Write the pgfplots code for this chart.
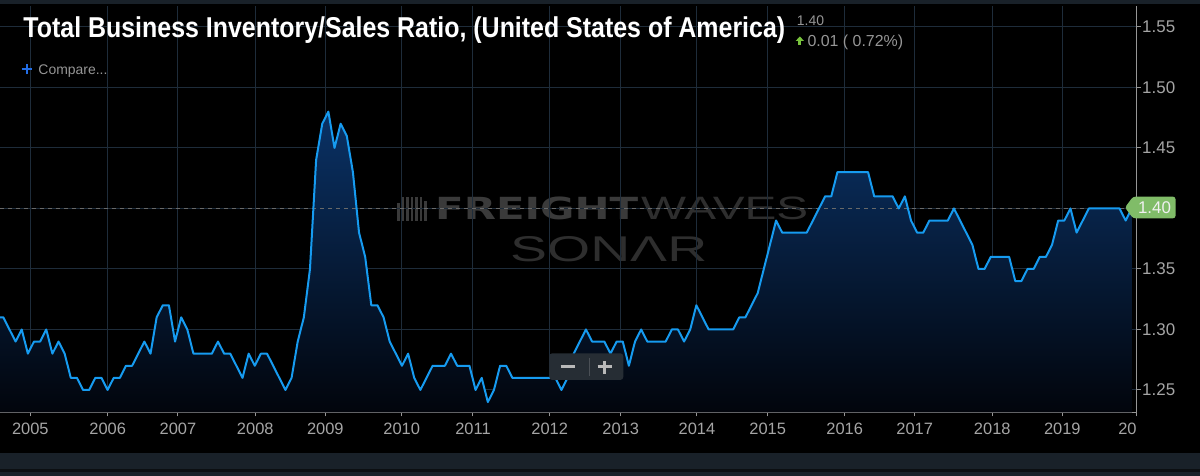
\documentclass[border=0pt]{standalone}
\usepackage{pgfplots}
\pgfplotsset{compat=1.18}
\usepackage{pgfplotstable}
\usepackage{graphicx}
\usepackage{fontspec}
\setmainfont{Liberation Sans}
\newfontfamily\djv{DejaVu Sans}

\definecolor{gridc}{RGB}{30,44,58}
\definecolor{axisc}{RGB}{150,150,150}
\definecolor{linec}{RGB}{22,155,240}
\definecolor{filltop}{RGB}{10,50,102}
\definecolor{fillbot}{RGB}{2,5,12}
\definecolor{txtgrey}{RGB}{165,165,165}
\definecolor{smallgrey}{RGB}{150,150,150}
\definecolor{barc}{RGB}{25,33,41}
\definecolor{bardark}{RGB}{12,15,18}
\definecolor{tagc}{RGB}{128,188,104}
\definecolor{wmc}{RGB}{58,58,58}
\definecolor{wmc2}{RGB}{46,46,46}
\definecolor{dashc}{RGB}{105,105,105}
\definecolor{btnc}{RGB}{38,45,52}
\definecolor{btntxt}{RGB}{185,185,185}
\definecolor{plusblue}{RGB}{35,110,230}
\definecolor{upgreen}{RGB}{120,195,60}

\pgfplotstableread{
i v
0 1.31
1 1.31
2 1.30
3 1.29
4 1.30
5 1.28
6 1.29
7 1.29
8 1.30
9 1.28
10 1.29
11 1.28
12 1.26
13 1.26
14 1.25
15 1.25
16 1.26
17 1.26
18 1.25
19 1.26
20 1.26
21 1.27
22 1.27
23 1.28
24 1.29
25 1.28
26 1.31
27 1.32
28 1.32
29 1.29
30 1.31
31 1.30
32 1.28
33 1.28
34 1.28
35 1.28
36 1.29
37 1.28
38 1.28
39 1.27
40 1.26
41 1.28
42 1.27
43 1.28
44 1.28
45 1.27
46 1.26
47 1.25
48 1.26
49 1.29
50 1.31
51 1.35
52 1.44
53 1.47
54 1.48
55 1.45
56 1.47
57 1.46
58 1.43
59 1.38
60 1.36
61 1.32
62 1.32
63 1.31
64 1.29
65 1.28
66 1.27
67 1.28
68 1.26
69 1.25
70 1.26
71 1.27
72 1.27
73 1.27
74 1.28
75 1.27
76 1.27
77 1.27
78 1.25
79 1.26
80 1.24
81 1.25
82 1.27
83 1.27
84 1.26
85 1.26
86 1.26
87 1.26
88 1.26
89 1.26
90 1.26
91 1.26
92 1.25
93 1.26
94 1.28
95 1.29
96 1.30
97 1.29
98 1.29
99 1.29
100 1.28
101 1.29
102 1.29
103 1.27
104 1.29
105 1.30
106 1.29
107 1.29
108 1.29
109 1.29
110 1.30
111 1.30
112 1.29
113 1.30
114 1.32
115 1.31
116 1.30
117 1.30
118 1.30
119 1.30
120 1.30
121 1.31
122 1.31
123 1.32
124 1.33
125 1.35
126 1.37
127 1.39
128 1.38
129 1.38
130 1.38
131 1.38
132 1.38
133 1.39
134 1.40
135 1.41
136 1.41
137 1.43
138 1.43
139 1.43
140 1.43
141 1.43
142 1.43
143 1.41
144 1.41
145 1.41
146 1.41
147 1.40
148 1.41
149 1.39
150 1.38
151 1.38
152 1.39
153 1.39
154 1.39
155 1.39
156 1.40
157 1.39
158 1.38
159 1.37
160 1.35
161 1.35
162 1.36
163 1.36
164 1.36
165 1.36
166 1.34
167 1.34
168 1.35
169 1.35
170 1.36
171 1.36
172 1.37
173 1.39
174 1.39
175 1.40
176 1.38
177 1.39
178 1.40
179 1.40
180 1.40
181 1.40
182 1.40
183 1.40
184 1.39
185 1.40
}\datatable

\begin{document}
\begin{tikzpicture}[x=1bp,y=1bp]
\fill[black] (0,0) rectangle (1200,476);
\useasboundingbox (0,0) rectangle (1200,476);
% top bar and bottom bands
\fill[barc] (0,472) rectangle (1200,476);
\fill[barc] (0,0) rectangle (1200,23);
\fill[bardark] (0,4) rectangle (1200,7);

% watermark
\foreach \xx/\hh in {397/18,401.5/24,406/24,410.5/24,415/24,419.5/24,424/20}{
  \fill[wmc] (\xx,255) rectangle ++(2.6,\hh);
}
\node[anchor=base west, inner sep=0, text=wmc] at (435,256.7)
  {\resizebox{203bp}{22.6bp}{\djv\bfseries FREIGHT}};
\node[anchor=base west, inner sep=0, text=wmc2] at (641,256.7)
  {\resizebox{167bp}{22.6bp}{WAVES}};
\node[anchor=base west, inner sep=0, text=wmc2] at (510,214.3)
  {\resizebox{197bp}{25bp}{SONΛR}};

\begin{axis}[
  at={(0,52.6)}, anchor=south west,
  scale only axis, width=1136.7bp, height=406.7bp,
  xmin=0.457, xmax=185.8, ymin=1.2315, ymax=1.5676,
  axis x line*=bottom, axis y line*=right,
  axis line style={draw=axisc, line width=1.2bp},
  grid=major, major grid style={draw=gridc, line width=1bp},
  tick style={draw=axisc, line width=1bp},
  tick align=outside, major tick length=4bp,
  xtick={5.40,18.02,29.48,42.08,53.50,65.95,77.58,90.09,101.66,114.10,125.63,138.19,149.60,162.25,173.67,185.8},
  xticklabels={2005,2006,2007,2008,2009,2010,2011,2012,2013,2014,2015,2016,2017,2018,2019,{\makebox[36.7bp][l]{20}}},
  ytick={1.25,1.30,1.35,1.40,1.45,1.50,1.55},
  yticklabels={1.25,1.30,1.35,{},1.45,1.50,1.55},
  xticklabel style={text=txtgrey, font=\fontsize{16.5}{18}\selectfont, yshift=-3.5bp},
  yticklabel style={text=txtgrey, font=\fontsize{17}{18}\selectfont, xshift=-2bp},
  clip=true,
]
\addplot[draw=none, top color=filltop, bottom color=fillbot] table[x=i, y=v] {\datatable}
  -- (185,1.2315) -- (0,1.2315) -- cycle;
\addplot[draw=dashc, line width=1bp, dash pattern=on 4bp off 4bp] coordinates {(0.457,1.40) (185.8,1.40)};
\addplot[draw=linec, line width=2bp, line join=round] table[x=i, y=v] {\datatable};
\end{axis}

% title and header texts
\node[anchor=base west, inner sep=0, text=white] at (23.3,438.7)
  {\resizebox{761.7bp}{\height}{\fontsize{28.8}{30}\selectfont\bfseries Total Business Inventory/Sales Ratio, (United States of America)}};
\node[anchor=base west, inner sep=0, text=smallgrey] at (796.7,450)
  {\fontsize{14}{15}\selectfont 1.40};
\fill[upgreen] (799.85,439.5) -- (795.6,435) -- (804.1,435) -- cycle;
\fill[upgreen] (798.4,431) rectangle (801.3,435.2);
\node[anchor=base west, inner sep=0, text=smallgrey] at (807.3,429.3)
  {\fontsize{16}{17}\selectfont 0.01 ( 0.72\%)};
\draw[plusblue, line width=2bp] (21.7,406.7) -- (31.7,406.7) (26.7,401.7) -- (26.7,411.7);
\node[anchor=base west, inner sep=0, text=smallgrey] at (38.3,401)
  {\fontsize{14}{16}\selectfont Compare...};

% zoom buttons
\fill[btnc, rounded corners=3bp] (549.3,96) rectangle (623.3,122.7);
\draw[draw={rgb,255:red,75;green,80;blue,86}, line width=1bp] (589,100) -- (589,118);
\draw[btntxt, line width=3bp] (560.7,109.3) -- (575,109.3);
\draw[btntxt, line width=3bp] (597.7,109.3) -- (611.7,109.3) (604.7,102) -- (604.7,115.3);

% value tag
\fill[tagc, rounded corners=2.5bp] (1125,268.5) -- (1133,279.3) -- (1175.5,279.3) -- (1175.5,257.7) -- (1133,257.7) -- cycle;
\node[text={rgb,255:red,240;green,240;blue,240}, inner sep=0] at (1154.5,268.5)
  {\fontsize{17}{18}\selectfont 1.40};
\end{tikzpicture}
\end{document}
